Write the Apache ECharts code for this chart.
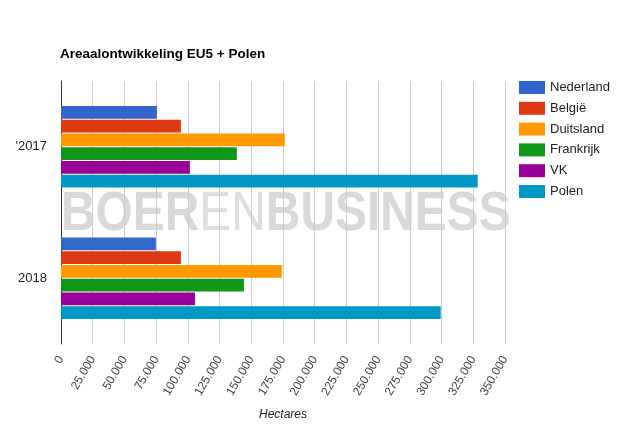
<!DOCTYPE html>
<html><head><meta charset="utf-8">
<script src="https://cdn.jsdelivr.net/npm/echarts@6/dist/echarts.min.js"></script>
<style>html,body{margin:0;padding:0;background:#fff}#c{width:625px;height:430px}</style>
</head><body><div id="c"></div>
<script>
var categories = ["'2017", "2018"];
var seriesNames = ["Nederland", "België", "Duitsland", "Frankrijk", "VK", "Polen"];
var nederland = [75600, 74800];
var belgie = [94500, 94500];
var duitsland = [176400, 174100];
var frankrijk = [138600, 144200];
var vk = [101600, 105600];
var polen = [328500, 299300];
var colors = ["#3366cc", "#dc3912", "#ff9900", "#109618", "#990099", "#0099c6"];
var values = [nederland, belgie, duitsland, frankrijk, vk, polen];

function fmt(v){ return String(v).replace(/\B(?=(\d{3})+(?!\d))/g, '.'); }

var chart = echarts.init(document.getElementById('c'), null, {renderer:'canvas'});
var FF = '"Liberation Sans", Arial, sans-serif';
chart.setOption({
  animation: false,
  color: colors,
  textStyle: {fontFamily: FF},
  title: {text: 'Areaalontwikkeling EU5 + Polen', left: 55, top: 42,
    textStyle: {fontSize: 13.5, fontWeight: 'bold', color: '#000', fontFamily: FF}},
  legend: {orient: 'vertical', left: 514, top: 76, itemWidth: 26, itemHeight: 13, itemGap: 7.8,
    icon: 'rect', textStyle: {fontSize: 13, color: '#222', fontFamily: FF},
    data: seriesNames},
  grid: {left: 61, right: 120, top: 81, bottom: 86, containLabel: false},
  xAxis: {type: 'value', min: 0, max: 350000, interval: 25000,
    axisLine: {show: false}, axisTick: {show: false},
    splitLine: {lineStyle: {color: '#cccccc'}},
    axisLabel: {rotate: 60, fontSize: 12, color: '#444', margin: 13, fontFamily: FF, formatter: fmt},
    name: 'Hectares', nameLocation: 'middle', nameGap: 65,
    nameTextStyle: {fontStyle: 'italic', fontSize: 12, color: '#222', fontFamily: FF}},
  yAxis: {type: 'category', data: categories, inverse: true,
    axisLine: {lineStyle: {color: '#333', width: 1}}, axisTick: {show: false},
    axisLabel: {fontSize: 13, color: '#222', margin: 14, fontFamily: FF}},
  graphic: [{type: 'text', left: 61, top: 187, z: -10, silent: true, scaleX: 0.855,
    style: {text: '{b|BOER}{n|EN}{b|BUSINESS}', fill: '#d9d9d9',
      rich: {b: {fontSize: 56, fontWeight: 'bold', fill: '#d9d9d9', fontFamily: FF},
             n: {fontSize: 56, fontWeight: 'normal', fill: '#dedede', fontFamily: FF}}}}],
  series: seriesNames.map(function(n, i){
    return {name: n, type: 'bar', data: values[i], barGap: '8%', barCategoryGap: '38%'};
  })
});
</script></body></html>
